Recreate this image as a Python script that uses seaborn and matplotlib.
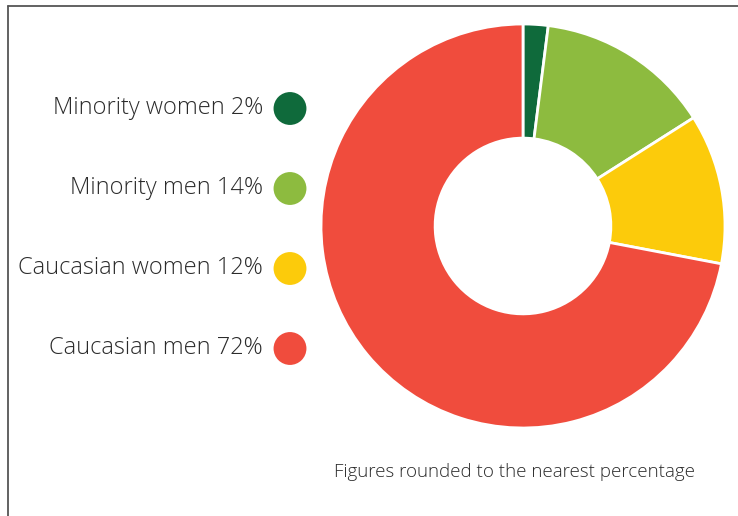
import matplotlib
matplotlib.use("Agg")
import matplotlib.pyplot as plt
import seaborn as sns
import pandas as pd
from matplotlib.lines import Line2D

categories = ["Minority women", "Minority men", "Caucasian women", "Caucasian men"]
values = [2, 14, 12, 72]
colors = ["#0f6a3b", "#8dbb3f", "#fccb0b", "#f04c3d"]
footnote = "Figures rounded to the nearest percentage"

sns.set_theme(style="white")
plt.rcParams['font.family'] = ['Open Sans', 'DejaVu Sans']

W, H = 738, 516
fig = plt.figure(figsize=(W / 100, H / 100), dpi=100)

# donut
cx, cy, r = 523, 226, 202
ax = fig.add_axes([(cx - r) / W, (H - cy - r) / H, 2 * r / W, 2 * r / H])
ax.pie(values, colors=colors, startangle=90, counterclock=False, radius=1,
       wedgeprops=dict(width=0.565, edgecolor="white", linewidth=2))
ax.set_xlim(-1, 1)
ax.set_ylim(-1, 1)
ax.set_axis_off()

# legend
df = pd.DataFrame({"cat": categories, "val": values, "pos": range(len(categories))})
df["label"] = [f"{c} {v}%" for c, v in zip(categories, values)]
top_y, step = 108.5, 80
lax = fig.add_axes([0, (H - (top_y + 3.5 * step)) / H, 330 / W, 4 * step / H])
sns.scatterplot(data=df, x=[290] * len(df), y="pos", hue="cat", palette=colors,
                s=560, linewidth=0, legend=False, ax=lax, clip_on=False)
lax.set_xlim(0, 330)
lax.set_ylim(3.5, -0.5)
lax.set_axis_off()
for _, row in df.iterrows():
    lax.text(263, row["pos"], row["label"], ha="right", va="center",
             fontsize=17, color="#2b2b2b", fontweight="light")

fig.text(514 / W, 1 - 472 / H, footnote, ha="center", va="center",
         fontsize=13.5, color="#2b2b2b", fontweight="light")

# frame lines
fig.add_artist(Line2D([8 / W, 1], [1 - 6 / H, 1 - 6 / H], color="#555555", lw=1.3,
                      transform=fig.transFigure))
fig.add_artist(Line2D([8 / W, 8 / W], [0, 1 - 6 / H], color="#555555", lw=1.3,
                      transform=fig.transFigure))

fig.savefig("out.png", dpi=100, facecolor="white")
